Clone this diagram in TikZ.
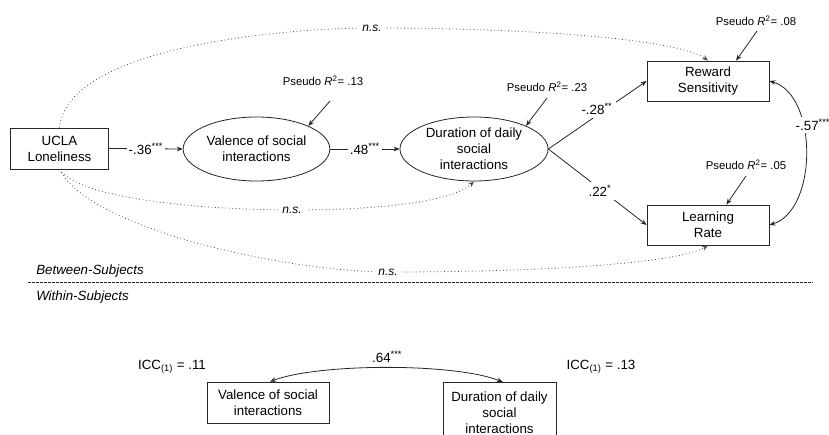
\documentclass[tikz,border=0pt]{standalone}
\usepackage{fontspec}
\setmainfont{Liberation Sans}
\usetikzlibrary{arrows.meta,shapes.geometric}
\tikzset{
  every node/.style={font=\fontsize{10}{12}\selectfont},
  boxnode/.style={draw=black!85, line width=0.6pt, align=center, inner sep=2pt},
  ellnode/.style={draw=black!85, line width=0.6pt, ellipse, align=center, inner sep=0pt},
  solidpath/.style={draw=black!85, line width=0.6pt, -{Stealth[length=4.5pt,width=3.5pt]}},
  dblpath/.style={draw=black!85, line width=0.6pt, {Stealth[length=4.5pt,width=3.5pt]}-{Stealth[length=4.5pt,width=3.5pt]}},
  nspath/.style={draw=black!70, line width=0.6pt, dotted, -{Stealth[length=4.5pt,width=3.5pt]}},
  lbl/.style={fill=white, inner sep=1.5pt},
  nslbl/.style={fill=white, inner sep=3pt, font=\fontsize{9}{10}\selectfont\itshape},
  pseudo/.style={font=\fontsize{8.5}{10}\selectfont, inner sep=1pt},
  r2arrow/.style={draw=black!85, line width=0.6pt, -{Stealth[length=4.5pt,width=3.5pt]}}
}
\begin{document}
\begin{tikzpicture}[x=0.75pt,y=-0.75pt]
\clip (0,0) rectangle (829,435);
\fill[white] (0,0) rectangle (829,435);

% Between-subjects nodes
\node[boxnode, minimum width=74pt, minimum height=30.75pt] (ucla) at (59.5,148.5) {UCLA\\Loneliness};
\node[ellnode, minimum width=110pt, minimum height=48pt] (val) at (256.5,149) {Valence of social\\interactions};
\node[ellnode, minimum width=111pt, minimum height=48pt] (dur) at (474,149) {Duration of daily\\social\\interactions};
\node[boxnode, minimum width=91.5pt, minimum height=30pt] (rew) at (708,81) {Reward\\Sensitivity};
\node[boxnode, minimum width=91.5pt, minimum height=30pt] (lrn) at (708,225) {Learning\\Rate};

% Pseudo R2 labels
\node[pseudo] (p13) at (323,81) {Pseudo \textit{R}\textsuperscript{2}= .13};
\node[pseudo] (p23) at (547,87) {Pseudo \textit{R}\textsuperscript{2}= .23};
\node[pseudo] (p08) at (756,21) {Pseudo \textit{R}\textsuperscript{2}= .08};
\node[pseudo] (p05) at (746,165) {Pseudo \textit{R}\textsuperscript{2}= .05};
\coordinate (p13s) at (330,101);
\coordinate (p23s) at (547,98);
\coordinate (p08s) at (757,31);
\coordinate (p05s) at (746,176);
\draw[r2arrow] (p13s) -- (val.24);
\draw[r2arrow] (p23s) -- (dur.24);
\draw[r2arrow] (p08s) -- (rew.36.5);
\draw[r2arrow] (p05s) -- (lrn.48);

% Solid paths
\draw[solidpath] (ucla.east) -- node[lbl] {-.36\textsuperscript{***}} (val.west);
\draw[solidpath] (val.east) -- node[lbl] {.48\textsuperscript{***}} (dur.west);
\draw[solidpath] (dur.east) -- (rew.west);
\node[lbl, inner sep=2.5pt] (l28) at (597,109) {-.28\textsuperscript{**}};
\draw[solidpath] (dur.east) -- (lrn.west);
\node[lbl, inner sep=2.5pt] (l22) at (600,191) {.22\textsuperscript{*}};
\draw[dblpath] (rew.east) .. controls (818,95) and (818,210) .. (lrn.east);
\node[lbl] (l57) at (813,125) {-.57\textsuperscript{***}};

% Non-significant dotted paths
\draw[nspath] (ucla.north) .. controls (68,45) and (290,28) .. (372,28)
  node[nslbl] (ns1) {n.s.}
  .. controls (540,28) and (680,40) .. (rew.north);
\draw[nspath] (ucla.south) .. controls (80,200) and (210,210) .. (292,210)
  node[nslbl] (ns2) {n.s.}
  .. controls (390,210) and (455,200) .. (dur.south);
\draw[nspath] (ucla.south) .. controls (90,230) and (290,272) .. (388,272)
  node[nslbl] (ns3) {n.s.}
  .. controls (560,272) and (680,262) .. (lrn.south);

% Separator
\node[anchor=west, font=\fontsize{10}{12}\selectfont\itshape, inner sep=0pt] (bs) at (36,271) {Between-Subjects};
\coordinate (sepL) at (28,282);
\coordinate (sepR) at (813,282);
\draw[black!85, line width=0.5pt, dash pattern=on 2pt off 1pt] (sepL) -- (sepR);
\node[anchor=west, font=\fontsize{10}{12}\selectfont\itshape, inner sep=0pt] (ws) at (36,297) {Within-Subjects};

% Within-subjects
\node[boxnode, minimum width=91.5pt, minimum height=30.75pt] (wval) at (268,402.5) {Valence of social\\interactions};
\node[boxnode, minimum width=84.75pt, minimum height=45pt, anchor=north] (wdur) at (499.5,382) {Duration of daily\\social\\interactions};
\node (icc1) at (172,367) {ICC\textsubscript{(1)} = .11};
\node (icc2) at (601,367) {ICC\textsubscript{(1)} = .13};
\draw[dblpath] ([xshift=1.5pt]wval.north) .. controls (320,363) and (455,363) .. ([xshift=2.5pt]wdur.north)
  node[pos=0.5, above=0pt] (l64) {.64\textsuperscript{***}};
\end{tikzpicture}
\end{document}
